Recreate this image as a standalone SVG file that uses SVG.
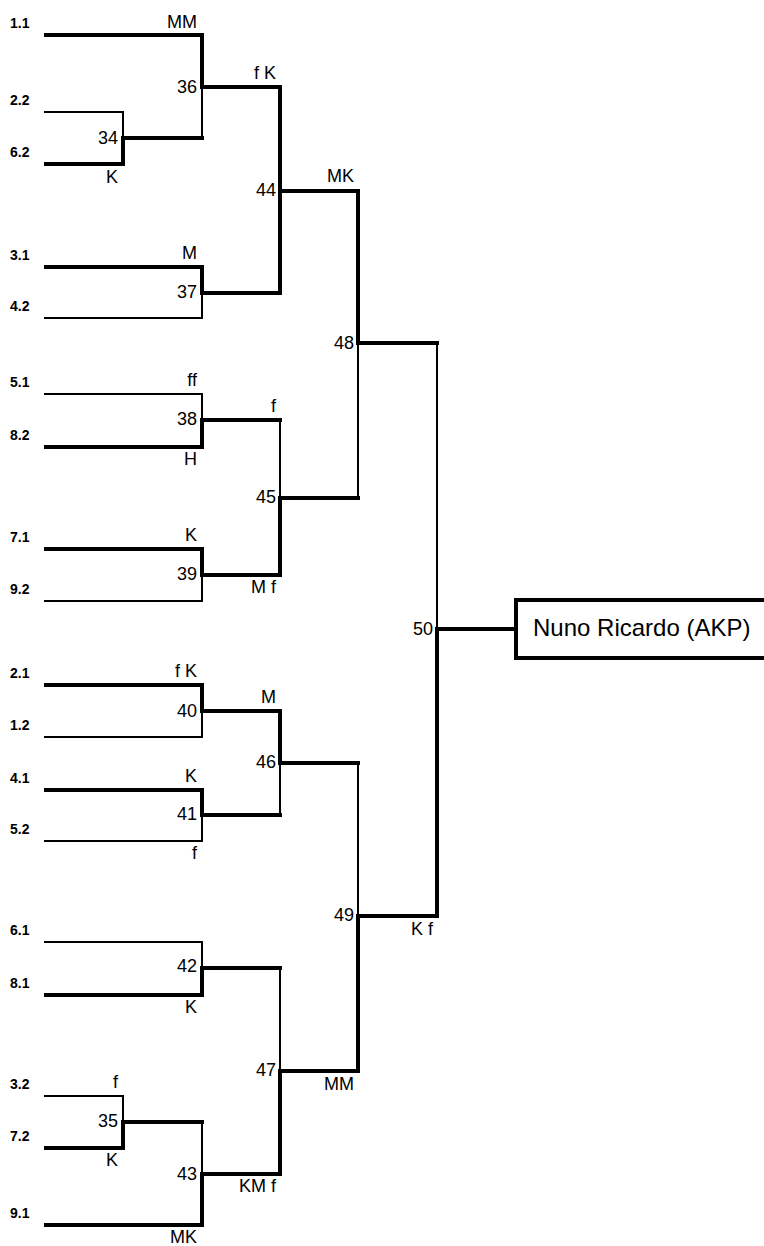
<svg xmlns="http://www.w3.org/2000/svg" width="764" height="1246" viewBox="0 0 764 1246">
<style>
.T{stroke:#000;stroke-width:4;fill:none;stroke-linejoin:miter}
.t{stroke:#000;stroke-width:2;fill:none;stroke-linejoin:miter}
.sq{stroke-linecap:square}
.leaf{font-family:"Liberation Sans",Arial,sans-serif;font-weight:bold;font-size:14px;fill:#000}
.lb{font-family:"Liberation Sans",Arial,sans-serif;font-size:18px;fill:#000;text-anchor:end}
.fin{font-family:"Liberation Sans",Arial,sans-serif;font-size:24px;fill:#000}
</style>
<rect width="764" height="1246" fill="#fff"/>
<g id="connectors">
<path class="T" d="M44 35H202V87"/>
<path class="t" d="M44 112H123V138"/>
<path class="T" d="M44 164H123V138"/>
<path class="T" d="M44 267H202V293"/>
<path class="t" d="M44 318H202V293"/>
<path class="t" d="M44 394H202V420"/>
<path class="T" d="M44 447H202V420"/>
<path class="T" d="M44 549H202V575"/>
<path class="t" d="M44 601H202V575"/>
<path class="T" d="M44 685H202V711"/>
<path class="t" d="M44 737H202V711"/>
<path class="T" d="M44 790H202V815"/>
<path class="t" d="M44 841H202V815"/>
<path class="t" d="M44 942H202V968"/>
<path class="T" d="M44 995H202V968"/>
<path class="t" d="M44 1096H123V1122"/>
<path class="T" d="M44 1148H123V1122"/>
<path class="T" d="M44 1225H202V1174"/>
<path class="T sq" d="M123 138H202"/>
<path class="t sq" d="M202 138V87"/>
<path class="T sq" d="M202 87H280V191"/>
<path class="T sq" d="M202 293H280V191"/>
<path class="T sq" d="M280 191H358V343"/>
<path class="T sq" d="M202 420H280"/>
<path class="t sq" d="M280 420V498"/>
<path class="T sq" d="M202 575H280V498"/>
<path class="T sq" d="M280 498H358"/>
<path class="t sq" d="M358 498V343"/>
<path class="T sq" d="M358 343H437"/>
<path class="t sq" d="M437 343V629"/>
<path class="T sq" d="M202 711H280V763"/>
<path class="T sq" d="M202 815H280"/>
<path class="t sq" d="M280 815V763"/>
<path class="T sq" d="M280 763H358"/>
<path class="t sq" d="M358 763V916"/>
<path class="T sq" d="M202 968H280"/>
<path class="t sq" d="M280 968V1071"/>
<path class="T sq" d="M123 1122H202"/>
<path class="t sq" d="M202 1122V1174"/>
<path class="T sq" d="M202 1174H280V1071"/>
<path class="T sq" d="M280 1071H358V916"/>
<path class="T sq" d="M358 916H437V629"/>
<path class="T sq" d="M437 629H516"/>
</g>
<g id="leaves">
<text class="leaf" x="10" y="28">1.1</text>
<text class="leaf" x="10" y="105">2.2</text>
<text class="leaf" x="10" y="157">6.2</text>
<text class="leaf" x="10" y="260">3.1</text>
<text class="leaf" x="10" y="311">4.2</text>
<text class="leaf" x="10" y="387">5.1</text>
<text class="leaf" x="10" y="440">8.2</text>
<text class="leaf" x="10" y="542">7.1</text>
<text class="leaf" x="10" y="594">9.2</text>
<text class="leaf" x="10" y="678">2.1</text>
<text class="leaf" x="10" y="730">1.2</text>
<text class="leaf" x="10" y="783">4.1</text>
<text class="leaf" x="10" y="834">5.2</text>
<text class="leaf" x="10" y="935">6.1</text>
<text class="leaf" x="10" y="988">8.1</text>
<text class="leaf" x="10" y="1089">3.2</text>
<text class="leaf" x="10" y="1141">7.2</text>
<text class="leaf" x="10" y="1218">9.1</text>
</g>
<g id="m34"><text class="lb" x="118" y="144">34</text><text class="lb" x="118" y="183">K</text></g>
<g id="m36"><text class="lb" x="197" y="28">MM</text><text class="lb" x="197" y="93">36</text></g>
<g id="m44"><text class="lb" x="276" y="79">f K</text><text class="lb" x="276" y="196">44</text></g>
<g id="m37"><text class="lb" x="197" y="259">M</text><text class="lb" x="197" y="298">37</text></g>
<g id="m48"><text class="lb" x="354" y="182">MK</text><text class="lb" x="354" y="349">48</text></g>
<g id="m38"><text class="lb" x="197" y="386">ff</text><text class="lb" x="197" y="425">38</text><text class="lb" x="197" y="465">H</text></g>
<g id="m45"><text class="lb" x="276" y="412">f</text><text class="lb" x="276" y="503">45</text><text class="lb" x="276" y="593">M f</text></g>
<g id="m39"><text class="lb" x="197" y="541">K</text><text class="lb" x="197" y="580">39</text></g>
<g id="m50"><text class="lb" x="433" y="635">50</text></g>
<g id="winner">
<path class="T" d="M764 600H516V658H764"/>
<text class="fin" x="533" y="636">Nuno Ricardo (AKP)</text>
</g>
<g id="m40"><text class="lb" x="197" y="677">f K</text><text class="lb" x="197" y="717">40</text></g>
<g id="m46"><text class="lb" x="276" y="703">M</text><text class="lb" x="276" y="768">46</text></g>
<g id="m41"><text class="lb" x="197" y="782">K</text><text class="lb" x="197" y="820">41</text><text class="lb" x="197" y="859">f</text></g>
<g id="m49"><text class="lb" x="354" y="921">49</text><text class="lb" x="433" y="935">K f</text></g>
<g id="m42"><text class="lb" x="197" y="972">42</text><text class="lb" x="197" y="1013">K</text></g>
<g id="m47"><text class="lb" x="276" y="1076">47</text><text class="lb" x="354" y="1090">MM</text></g>
<g id="m35"><text class="lb" x="118" y="1088">f</text><text class="lb" x="118" y="1127">35</text><text class="lb" x="118" y="1166">K</text></g>
<g id="m43"><text class="lb" x="197" y="1180">43</text><text class="lb" x="276" y="1192">KM f</text><text class="lb" x="197" y="1243">MK</text></g>
</svg>
